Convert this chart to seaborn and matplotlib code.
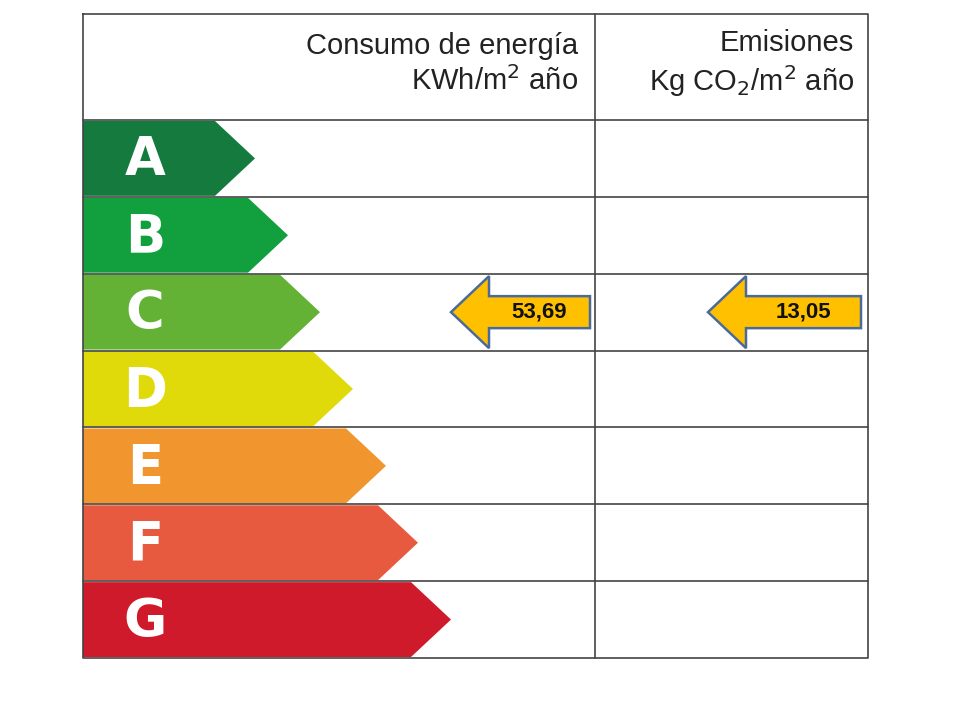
import matplotlib
matplotlib.use("Agg")
import matplotlib.pyplot as plt
import seaborn as sns
from matplotlib.patches import Polygon

sns.set_theme(style="white")
plt.rcParams['font.family'] = ['Liberation Sans', 'DejaVu Sans']

letters = ["A", "B", "C", "D", "E", "F", "G"]
colors = ["#147a3d", "#11a03d", "#63b236", "#e0da0b", "#f1962e", "#e85a3f", "#cf1a2b"]
bar_tips = [255, 288, 320, 353, 386, 418, 451]
energy_label = "53,69"
emission_label = "13,05"
rating_row = 2  # C

fig = plt.figure(figsize=(9.6, 7.2), dpi=100)
ax = fig.add_axes([0, 0, 1, 1])
ax.set_xlim(0, 960)
ax.set_ylim(720, 0)
ax.axis("off")

left, right, mid = 83, 868, 595
top, head_bot = 14, 120
row_h = (658 - head_bot) / 7
rows = [head_bot + i * row_h for i in range(8)]

# grid
ax.plot([left, right, right, left, left], [top, top, rows[-1], rows[-1], top], color="#444", lw=1.2)
ax.plot([mid, mid], [top, rows[-1]], color="#444", lw=1.2)
for y in rows[:-1]:
    ax.plot([left, right], [y, y], color="#444", lw=1.2)

# bars
for i, (L, c, tip) in enumerate(zip(letters, colors, bar_tips)):
    y0, y1 = rows[i] + 1, rows[i + 1] - 1
    ym = (y0 + y1) / 2
    body = tip - 40
    ax.add_patch(Polygon([[left, y0], [body, y0], [tip, ym], [body, y1], [left, y1]],
                         closed=True, color=c, lw=0))
    ax.text(145, ym + 2, L, color="white", fontsize=38, fontweight="bold",
            ha="center", va="center", family=["DejaVu Sans"])

# headers
ax.text(578, 64, "Consumo de energía\nKWh/m$^2$ año", ha="right", va="center",
        fontsize=21, color="#222", linespacing=1.25)
ax.text(854, 64, "Emisiones\nKg CO$_2$/m$^2$ año", ha="right", va="center",
        fontsize=21, color="#222", linespacing=1.25)

def arrow(x0, x1, ym, label):
    h_body, h_head, head = 16, 36, 38
    pts = [[x0, ym], [x0 + head, ym - h_head], [x0 + head, ym - h_body], [x1, ym - h_body],
           [x1, ym + h_body], [x0 + head, ym + h_body], [x0 + head, ym + h_head]]
    ax.add_patch(Polygon(pts, closed=True, facecolor="#ffc000", edgecolor="#4a6a9a", lw=1.8))
    ax.text((x0 + head + x1) / 2, ym, label, ha="center", va="center",
            fontsize=16, fontweight="bold", color="#111")

ym = (rows[rating_row] + rows[rating_row + 1]) / 2
arrow(451, 590, ym, energy_label)
arrow(708, 861, ym, emission_label)

fig.savefig("out.png", dpi=100)
